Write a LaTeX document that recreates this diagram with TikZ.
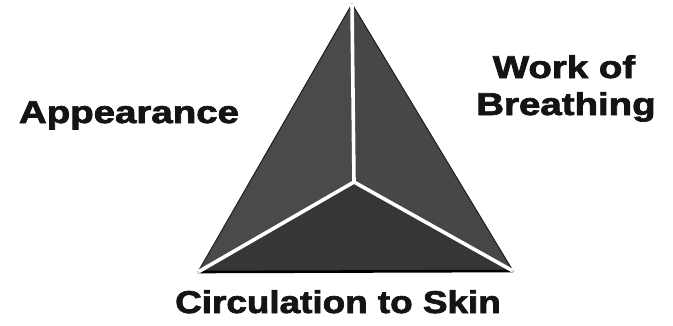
\documentclass[tikz,border=0pt]{standalone}
\usepackage{fontspec}
\usepackage{graphicx}
\setmainfont{Liberation Sans}
\newfontfamily\heavyfont[FakeBold=2.2]{Liberation Sans Bold}
\tikzset{
  lbl/.style={anchor=base, inner sep=0pt, font=\fontsize{31.5}{35}\heavyfont, text=black!92},
  face/.style={draw=black!85, line width=0.8pt, line join=round},
  divider/.style={draw=white, line width=3.6pt, line cap=butt}
}
\begin{document}
\begin{tikzpicture}[x=1pt,y=-1pt]
\useasboundingbox (0,0) rectangle (673,325);
\coordinate (apex) at (352,4);
\coordinate (bl) at (198,272);
\coordinate (br) at (513,271);
\coordinate (ctr) at (354,182);
\fill[face, fill=black!71] (apex) -- (ctr) -- (bl) -- cycle;
\fill[face, fill=black!72] (apex) -- (br) -- (ctr) -- cycle;
\fill[face, fill=black!79] (bl) -- (ctr) -- (br) -- cycle;
\draw[black!85, line width=0.9pt, line join=round] (bl) -- (apex) -- (br);
\draw[black, line width=2.6pt] (bl) -- (br);
\draw[divider] (ctr) -- (apex);
\draw[divider] (ctr) -- (bl);
\draw[divider] (ctr) -- (br);
\node[lbl] (app) at (129,123) {\scalebox{1.22}[1]{Appearance}};
\node[lbl] (work) at (564,78) {\scalebox{1.22}[1]{Work of}};
\node[lbl] (breath) at (566,115) {\scalebox{1.22}[1]{Breathing}};
\node[lbl] (circ) at (338,313) {\scalebox{1.17}[1]{Circulation to Skin}};
\end{tikzpicture}
\end{document}
